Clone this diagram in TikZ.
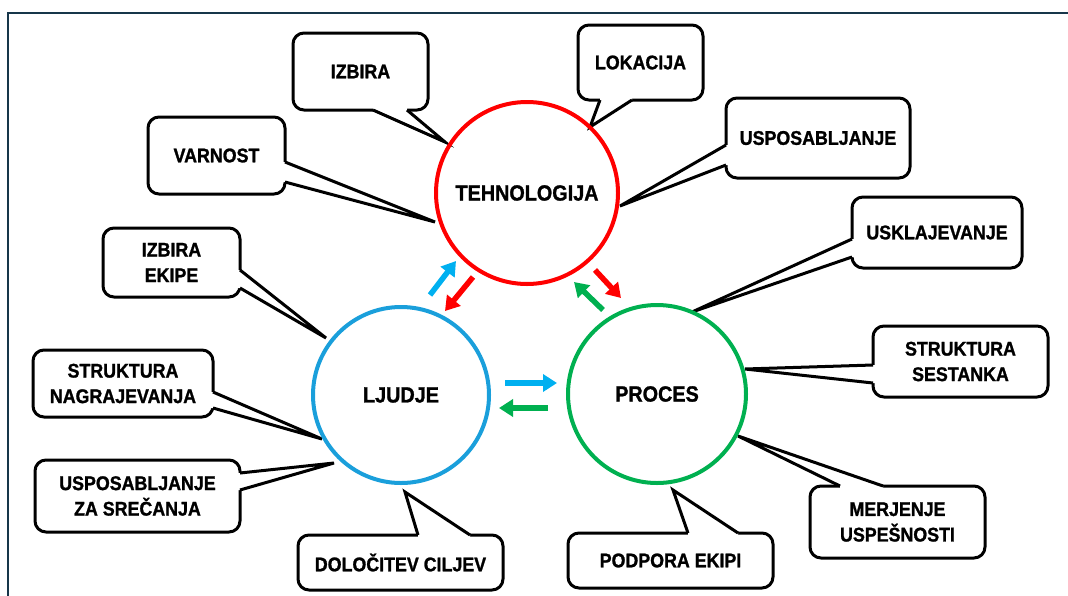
\documentclass[tikz,border=0pt]{standalone}
\usepackage{fontspec}
\setmainfont{Liberation Sans}[FakeStretch=0.9, BoldFeatures={FakeBold=1.2}]
\usetikzlibrary{arrows.meta,calc}
\definecolor{framec}{HTML}{17364A}
\definecolor{tred}{HTML}{FF0000}
\definecolor{tblue}{HTML}{1A9FDB}
\definecolor{tgreen}{HTML}{00B050}
\definecolor{ablue}{HTML}{00B0F0}
\begin{document}
\begin{tikzpicture}[x=1pt,y=-1pt,
  callout/.style={draw=black, line width=3pt, rounded corners=11pt, fill=white,
    inner sep=0pt, align=center, font=\bfseries\fontsize{19.8}{25.5}\selectfont},
  tail/.style={draw=black, line width=3pt, line join=miter},
  hub/.style={circle, draw, line width=4pt, inner sep=0pt,
    font=\bfseries\fontsize{22}{26}\selectfont},
  flow/.style={line width=5.5pt, -{Triangle[length=14pt,width=17pt]}}]
\useasboundingbox (0,0) rectangle (1068,595);
\draw[framec, line width=2.8pt] (8,600) -- (8,13) -- (1075,13);

% callout boxes
\node[callout, minimum width=135pt, minimum height=77pt] (c1) at (360.5,71.5) {IZBIRA};
\node[callout, minimum width=125pt, minimum height=75pt] (c2) at (640.5,62.5) {LOKACIJA};
\node[callout, minimum width=137pt, minimum height=77pt] (c3) at (216.5,155.5) {VARNOST};
\node[callout, minimum width=184pt, minimum height=80pt] (c4) at (818,138) {USPOSABLJANJE};
\node[callout, minimum width=137pt, minimum height=69pt] (c5) at (171.5,262.5) {IZBIRA\\EKIPE};
\node[callout, minimum width=180pt, minimum height=67pt] (c6) at (123,383.5) {STRUKTURA\\NAGRAJEVANJA};
\node[callout, minimum width=205pt, minimum height=72pt] (c7) at (137.5,496) {USPOSABLJANJE\\ZA SREČANJA};
\node[callout, minimum width=205pt, minimum height=55pt] (c8) at (400.5,562.5) {DOLOČITEV CILJEV};
\node[callout, minimum width=205pt, minimum height=55pt] (c9) at (670.5,560.5) {PODPORA EKIPI};
\node[callout, minimum width=170pt, minimum height=71pt] (c10) at (937,232.5) {USKLAJEVANJE};
\node[callout, minimum width=175pt, minimum height=71pt] (c11) at (960.5,361.5) {STRUKTURA\\SESTANKA};
\node[callout, minimum width=175pt, minimum height=72pt] (c12) at (897.5,522) {MERJENJE\\USPEŠNOSTI};

% tail tips
\coordinate (t1) at (445,142);
\coordinate (t2) at (590,127);
\coordinate (t3) at (435,222);
\coordinate (t4) at (620,206);
\coordinate (t5) at (326,338);
\coordinate (t6) at (322,439);
\coordinate (t7) at (334,463);
\coordinate (t8) at (405,492);
\coordinate (t9) at (673,490);
\coordinate (t10) at (692,312);
\coordinate (t11) at (745,369);
\coordinate (t12) at (738,436);

% tails: bottom side
\foreach \a/\b/\y/\t in {373/407/110/t1, 600/632/100/t2}{
  \fill[white] (\a,\y-3) -- (\a,\y) -- (\t) -- (\b,\y) -- (\b,\y-3) -- cycle;
  \draw[tail] (\a,\y) -- (\t) -- (\b,\y);
}
% tails: top side
\foreach \a/\b/\y/\t in {418/470/535/t8, 688/738/533/t9, 840/883/486/t12}{
  \fill[white] (\a,\y+3) -- (\a,\y) -- (\t) -- (\b,\y) -- (\b,\y+3) -- cycle;
  \draw[tail] (\a,\y) -- (\t) -- (\b,\y);
}
% tails: right side
\foreach \x/\a/\b/\t in {285/162/182/t3, 240/270/288/t5, 213/392/408/t6, 240/473/490/t7}{
  \fill[white] (\x-3,\a) -- (\x,\a) -- (\t) -- (\x,\b) -- (\x-3,\b) -- cycle;
  \draw[tail] (\x,\a) -- (\t) -- (\x,\b);
}
% tails: left side
\foreach \x/\a/\b/\t in {726/145/165/t4, 852/239/257/t10, 873/365/383/t11}{
  \fill[white] (\x+3,\a) -- (\x,\a) -- (\t) -- (\x,\b) -- (\x+3,\b) -- cycle;
  \draw[tail] (\x,\a) -- (\t) -- (\x,\b);
}

% hubs
\node[hub, draw=tred, minimum size=182pt] (tech) at (527,193) {TEHNOLOGIJA};
\node[hub, draw=tblue, minimum size=176pt] (ljud) at (401,395) {LJUDJE};
\node[hub, draw=tgreen, minimum size=178pt] (proc) at (657,394) {PROCES};

% flow arrows
\coordinate (a1s) at (430,295); \coordinate (a1e) at (456,261);
\coordinate (a2s) at (473,277); \coordinate (a2e) at (445,311);
\coordinate (a3s) at (595,270); \coordinate (a3e) at (621,298);
\coordinate (a4s) at (603,310); \coordinate (a4e) at (574,282);
\coordinate (a5s) at (505,383); \coordinate (a5e) at (557,383);
\coordinate (a6s) at (548,408); \coordinate (a6e) at (499,408);
\draw[flow, ablue] (a1s) -- (a1e);
\draw[flow, tred] (a2s) -- (a2e);
\draw[flow, tred] (a3s) -- (a3e);
\draw[flow, tgreen] (a4s) -- (a4e);
\draw[flow, ablue] (a5s) -- (a5e);
\draw[flow, tgreen] (a6s) -- (a6e);
\end{tikzpicture}
\end{document}
